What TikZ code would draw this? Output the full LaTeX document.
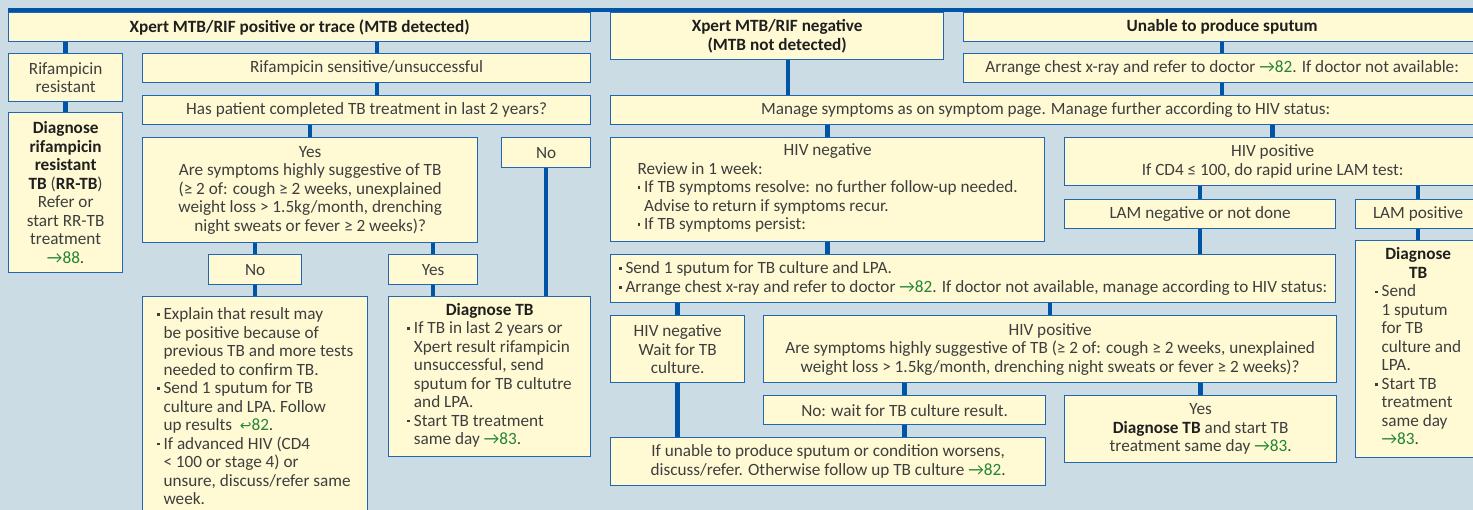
\documentclass[tikz,border=0pt]{standalone}
\usepackage{fontspec}
\setmainfont{Carlito}
\newfontfamily\symfont{DejaVu Sans}
\usetikzlibrary{positioning}

\definecolor{bg}{RGB}{203,220,229}
\definecolor{boxfill}{RGB}{255,250,212}
\definecolor{boxline}{RGB}{32,102,178}
\definecolor{linkblue}{RGB}{0,84,166}
\definecolor{txt}{RGB}{62,62,62}
\definecolor{pagegreen}{RGB}{34,132,52}

\newcommand\tbold[1]{\textcolor{black!88}{\textbf{#1}}}
\newcommand\seepage[1]{\textcolor{pagegreen}{→#1}}
\newcommand\bul{\makebox[6.5pt][l]{\raisebox{3.8pt}{\rule{2.6pt}{2.6pt}}}}
\newcommand\ind{\hspace*{6.5pt}}
\newenvironment{points}{\begin{tabular}[t]{@{}l@{}}}{\end{tabular}}

\tikzset{
  box/.style={rectangle,draw=boxline,fill=boxfill,line width=1.3pt,anchor=north west,
    inner sep=2pt,align=center,text=txt,font=\fontsize{17.2}{18.5}\selectfont},
  link/.style={draw=linkblue,line width=4.5pt},
}

\begin{document}
\begin{tikzpicture}[x=1pt,y=-1pt]
  \fill[bg] (0,0) rectangle (1473,510);
  \clip (0,0) rectangle (1473,510);
  \draw[linkblue,line width=4pt] (8,9.8) -- (1480,9.8);

  % Xpert positive
  \node[box,minimum width=582pt,minimum height=29pt] (positive) at (8,12) {\tbold{Xpert MTB/RIF positive or trace (MTB detected)}};
  \node[box,minimum width=114pt,minimum height=48pt] (rifres) at (8,53) {Rifampicin\\resistant};
  \node[box,minimum width=114pt,minimum height=160pt] (diagrr) at (8,112) {\tbold{Diagnose}\\\tbold{rifampicin}\\\tbold{resistant}\\\tbold{TB} (\tbold{RR-TB})\\Refer or\\start RR-TB\\treatment\\\seepage{88}.};
  \node[box,minimum width=448pt,minimum height=29pt] (sensitive) at (142,53) {Rifampicin sensitive/unsuccessful};
  \node[box,minimum width=448pt,minimum height=29pt] (past) at (142,95) {Has patient completed TB treatment in last 2 years?};
  \node[box,minimum width=335pt,minimum height=105pt] (pastyes) at (142,137) {Yes\\Are symptoms highly suggestive of TB\\(≥ 2 of: cough ≥ 2 weeks, unexplained\\weight loss > 1.5kg/month, drenching\\night sweats or fever ≥ 2 weeks)?};
  \node[box,minimum width=89pt,minimum height=30pt] (pastno) at (501,137) {No};
  \node[box,minimum width=93pt,minimum height=30pt] (sxno) at (208,254) {No};
  \node[box,minimum width=89pt,minimum height=30pt] (sxyes) at (388,254) {Yes};
  \node[box,align=left,minimum width=225pt,minimum height=219pt] (explain) at (142,296) {\bul Explain that result may\\\ind be positive because of\\\ind previous TB and more tests\\\ind needed to confirm TB.\\\bul Send 1 sputum for TB\\\ind culture and LPA. Follow\\\ind up results \ \textcolor{pagegreen}{{\symfont\fontsize{14}{18.5}\selectfont ↩}82}.\\\bul If advanced HIV (CD4\\\ind < 100 or stage 4) or\\\ind unsure, discuss/refer same\\\ind week.};
  \node[box,minimum width=202pt,minimum height=160pt] (diagtb) at (388,296) {\tbold{Diagnose TB}\\\begin{points}\bul If TB in last 2 years or\\\ind Xpert result rifampicin\\\ind unsuccessful, send\\\ind sputum for TB cultutre\\\ind and LPA.\\\bul Start TB treatment\\\ind same day \seepage{83}.\end{points}};

  % Xpert negative
  \node[box,minimum width=333pt,minimum height=47pt] (negative) at (610,12) {\tbold{Xpert MTB/RIF negative}\\\tbold{(MTB not detected)}};
  \node[box,minimum width=870pt,minimum height=29pt] (manage) at (610,95) {Manage symptoms as on symptom page. Manage further according to HIV status:};
  \node[box,minimum width=434pt,minimum height=104pt] (hivneg) at (610,137) {HIV negative\\\begin{points}Review in 1 week:\\\bul If TB symptoms resolve: no further follow-up needed.\\\ind Advise to return if symptoms recur.\\\bul If TB symptoms persist:\end{points}};
  \node[box,minimum width=416pt,minimum height=48pt] (hivpos) at (1064,137) {HIV positive\\If CD4 ≤ 100, do rapid urine LAM test:};
  \node[box,minimum width=271pt,minimum height=29pt] (lamneg) at (1064,199) {LAM negative or not done};
  \node[box,minimum width=125pt,minimum height=29pt] (lampos) at (1355,199) {LAM positive};
  \node[box,minimum width=125pt,minimum height=217pt] (diagright) at (1355,240) {\tbold{Diagnose}\\\tbold{TB}\\\begin{points}\bul Send\\\ind 1 sputum\\\ind for TB\\\ind culture and\\\ind LPA.\\\bul Start TB\\\ind treatment\\\ind same day\\\ind\seepage{83}.\end{points}};
  \node[box,align=left,minimum width=725pt,minimum height=48pt] (sputum) at (610,254) {\bul Send 1 sputum for TB culture and LPA.\\\bul Arrange chest x-ray and refer to doctor \seepage{82}. If doctor not available, manage according to HIV status:};
  \node[box,minimum width=134pt,minimum height=67pt] (waitneg) at (610,315) {HIV negative\\Wait for TB\\culture.};
  \node[box,minimum width=573pt,minimum height=67pt] (sympos) at (763,315) {HIV positive\\Are symptoms highly suggestive of TB (≥ 2 of: cough ≥ 2 weeks, unexplained\\weight loss > 1.5kg/month, drenching night sweats or fever ≥ 2 weeks)?};
  \node[box,minimum width=282pt,minimum height=29pt] (nowait) at (763,395) {No: wait for TB culture result.};
  \node[box,minimum width=272pt,minimum height=67pt] (yesdiag) at (1064,395) {Yes\\\tbold{Diagnose TB} and start TB\\treatment same day \seepage{83}.};
  \node[box,minimum width=435pt,minimum height=48pt] (followup) at (610,437) {If unable to produce sputum or condition worsens,\\discuss/refer. Otherwise follow up TB culture \seepage{82}.};

  % unable to produce sputum
  \node[box,minimum width=517pt,minimum height=29pt] (unable) at (963,12) {\tbold{Unable to produce sputum}};
  \node[box,minimum width=517pt,minimum height=29pt] (arrange) at (963,53) {Arrange chest x-ray and refer to doctor \seepage{82}. If doctor not available:};

  \draw[link] (positive.south -| rifres.north) -- (rifres.north);
  \draw[link] (rifres) -- (diagrr);
  \draw[link] (377,0 |- positive.south) -- (377,0 |- sensitive.north);
  \draw[link] (377,0 |- sensitive.south) -- (377,0 |- past.north);
  \draw[link] (past.south -| pastyes.north) -- (pastyes.north);
  \draw[link] (pastyes.south -| sxno.north) -- (sxno.north);
  \draw[link] (pastyes.south -| sxyes.north) -- (sxyes.north);
  \draw[link] (sxno) -- (explain);
  \draw[link] (sxyes.south) -- (sxyes.south |- diagtb.north);
  \draw[link] (pastno.south) -- (pastno.south |- diagtb.north);

  \draw[link] (788,0 |- negative.south) -- (788,0 |- manage.north);
  \draw[link] (unable.south) -- (arrange.north);
  \draw[link] (arrange.south) -- (arrange.south |- manage.north);
  \draw[link] (manage.south -| hivneg.north) -- (hivneg.north);
  \draw[link] (manage.south -| hivpos.north) -- (hivpos.north);
  \draw[link] (hivpos.south -| lamneg.north) -- (lamneg.north);
  \draw[link] (hivpos.south -| lampos.north) -- (lampos.north);
  \draw[link] (lampos) -- (diagright);
  \draw[link] (lamneg.south) -- (lamneg.south |- sputum.north);
  \draw[link] (hivneg.south) -- (hivneg.south |- sputum.north);
  \draw[link] (sputum.south -| waitneg.north) -- (waitneg.north);
  \draw[link] (sputum.south -| sympos.north) -- (sympos.north);
  \draw[link] (sympos.south -| nowait.north) -- (nowait.north);
  \draw[link] (sympos.south -| yesdiag.north) -- (yesdiag.north);
  \draw[link] (nowait.south) -- (nowait.south |- followup.north);
  \draw[link] (waitneg.south) -- (waitneg.south |- followup.north);
\end{tikzpicture}
\end{document}
